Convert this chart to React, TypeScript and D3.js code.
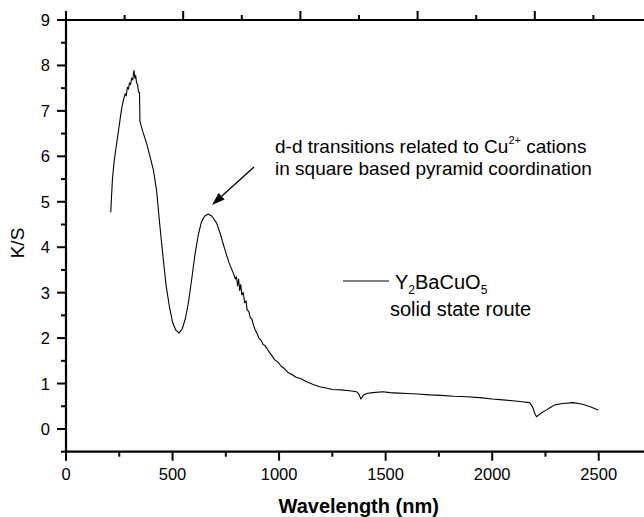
import React from "react";
import * as d3 from "d3";

const wavelength = [
  210, 213, 218, 225, 235, 249, 258, 262, 270, 278, 283, 288, 293, 298, 303, 308, 313, 319, 323, 327,
  331, 336, 340, 345, 347, 360, 378, 395, 410, 425, 440, 455, 470, 485, 500, 515, 530, 545, 560, 575,
  590, 605, 620, 635, 650, 667, 685, 707, 725, 746, 765, 785, 795, 800, 805, 810, 815, 820, 825, 832,
  838, 845, 850, 858, 865, 872, 879, 888, 897, 905, 915, 925, 935, 945, 955, 965, 980, 995, 1010, 1025,
  1040, 1060, 1080, 1100, 1130, 1160, 1190, 1220, 1250, 1290, 1330, 1363, 1375, 1384, 1395, 1410, 1440, 1487, 1520, 1560,
  1600, 1650, 1707, 1760, 1820, 1880, 1942, 2000, 2050, 2097, 2140, 2176, 2190, 2200, 2208, 2230, 2255, 2275, 2294, 2330,
  2380, 2420, 2460, 2497,
];
const ksValues = [
  4.77, 5.05, 5.5, 5.86, 6.2, 6.65, 6.95, 7.07, 7.25, 7.38, 7.33, 7.52, 7.48, 7.62, 7.58, 7.72, 7.68, 7.89, 7.72, 7.78,
  7.62, 7.58, 7.42, 7.4, 6.77, 6.55, 6.29, 5.98, 5.7, 5.25, 4.5, 3.8, 3.15, 2.7, 2.35, 2.18, 2.11, 2.2, 2.42, 2.8,
  3.3, 3.83, 4.25, 4.55, 4.68, 4.73, 4.68, 4.53, 4.28, 3.94, 3.66, 3.43, 3.3, 3.35, 3.15, 3.3, 3.05, 3.18, 2.95, 3.0,
  2.78, 2.82, 2.62, 2.58, 2.45, 2.42, 2.3, 2.18, 2.1, 2.0, 1.95, 1.86, 1.83, 1.76, 1.68, 1.62, 1.52, 1.47, 1.38, 1.33,
  1.25, 1.2, 1.14, 1.11, 1.04, 0.98, 0.93, 0.9, 0.87, 0.86, 0.84, 0.82, 0.76, 0.66, 0.74, 0.78, 0.8, 0.82, 0.8, 0.79,
  0.78, 0.77, 0.75, 0.74, 0.72, 0.71, 0.69, 0.66, 0.64, 0.62, 0.6, 0.58, 0.48, 0.34, 0.27, 0.35, 0.42, 0.48, 0.53, 0.56,
  0.58, 0.55, 0.49, 0.42,
];

const xMajorTicks = [0, 500, 1000, 1500, 2000, 2500];
const xMinorTicks = [250, 750, 1250, 1750, 2250, 2750];
const yMajorTicks = [0, 1, 2, 3, 4, 5, 6, 7, 8, 9];
const yMinorTicks = [-0.5, 0.5, 1.5, 2.5, 3.5, 4.5, 5.5, 6.5, 7.5, 8.5];
const topMajorTicks = [0, 1, 2, 3, 4, 5];
const topMinorTicks = [0.5, 1.5, 2.5, 3.5, 4.5];

const FONT = "'Liberation Sans', Arial, Helvetica, sans-serif";

export default function App() {
  const W = 644;
  const H = 517;
  const x = d3.scaleLinear().domain([0, 2750]).range([66, 652]);
  const top = d3.scaleLinear().domain([0, 5]).range([66, 652]);
  const y = d3.scaleLinear().domain([-0.5, 9]).range([451.7, 20]);
  const data = wavelength.map((w, i) => [w, ksValues[i]] as [number, number]);
  const line = d3
    .line<[number, number]>()
    .x((d) => x(d[0]))
    .y((d) => y(d[1]));

  const xL = 66;
  const yB = y(-0.5);
  const yT = y(9);

  // arrow geometry
  const ax1 = 254, ay1 = 167, ax2 = 212, ay2 = 205;
  const ang = Math.atan2(ay2 - ay1, ax2 - ax1);
  const hl = 13, hw = 4.5;
  const bx = ax2 - hl * Math.cos(ang), by = ay2 - hl * Math.sin(ang);
  const head = `M${ax2},${ay2} L${bx + hw * Math.sin(ang)},${by - hw * Math.cos(ang)} L${bx - hw * Math.sin(ang)},${by + hw * Math.cos(ang)} Z`;

  return (
    <svg
      width={W}
      height={H}
      style={{ position: "absolute", left: 0, top: 0, background: "#fff" }}
      fontFamily={FONT}
    >
      <rect x={0} y={0} width={W} height={H} fill="#fff" />
      {/* data line */}
      <path d={line(data) || ""} fill="none" stroke="#000" strokeWidth={1.1} strokeLinejoin="round" />

      {/* axes */}
      <line x1={xL} x2={W + 10} y1={yB} y2={yB} stroke="#000" strokeWidth={2.2} />
      <line x1={xL} x2={W + 10} y1={yT} y2={yT} stroke="#000" strokeWidth={2.2} />
      <line x1={xL} x2={xL} y1={yT} y2={yB} stroke="#000" strokeWidth={2.2} />

      {xMajorTicks.map((t) => (
        <g key={"xM" + t}>
          <line x1={x(t)} x2={x(t)} y1={yB} y2={yB + 9} stroke="#000" strokeWidth={2} />
          <text x={x(t)} y={480} textAnchor="middle" fontSize={16.5}>
            {t}
          </text>
        </g>
      ))}
      {xMinorTicks.map((t) => (
        <line key={"xm" + t} x1={x(t)} x2={x(t)} y1={yB} y2={yB + 5} stroke="#000" strokeWidth={2} />
      ))}
      {topMajorTicks.map((t) => (
        <line key={"tM" + t} x1={top(t)} x2={top(t)} y1={yT} y2={yT - 9} stroke="#000" strokeWidth={2} />
      ))}
      {topMinorTicks.map((t) => (
        <line key={"tm" + t} x1={top(t)} x2={top(t)} y1={yT} y2={yT - 5} stroke="#000" strokeWidth={2} />
      ))}
      {yMajorTicks.map((t) => (
        <g key={"yM" + t}>
          <line x1={xL - 9} x2={xL} y1={y(t)} y2={y(t)} stroke="#000" strokeWidth={2} />
          <text x={50} y={y(t) + 6} textAnchor="end" fontSize={16.5}>
            {t}
          </text>
        </g>
      ))}
      {yMinorTicks.map((t) => (
        <line key={"ym" + t} x1={xL - 5} x2={xL} y1={y(t)} y2={y(t)} stroke="#000" strokeWidth={2} />
      ))}

      {/* axis titles */}
      <text x={358.7} y={513} textAnchor="middle" fontSize={20} fontWeight="bold">
        Wavelength (nm)
      </text>
      <text transform="translate(24,243) rotate(-90)" textAnchor="middle" fontSize={19}>
        K/S
      </text>

      {/* annotation */}
      <text x={275} y={153} fontSize={19}>
        d-d transitions related to Cu
        <tspan fontSize={11} dy={-9}>2+</tspan>
        <tspan dy={9}> cations</tspan>
      </text>
      <text x={275} y={175} fontSize={19}>
        in square based pyramid coordination
      </text>
      <line x1={ax1} y1={ay1} x2={bx} y2={by} stroke="#000" strokeWidth={1.3} />
      <path d={head} fill="#000" />

      {/* legend */}
      <line x1={343} x2={389} y1={281} y2={281} stroke="#000" strokeWidth={1.1} />
      <text x={395} y={289} fontSize={20}>
        Y<tspan fontSize={12} dy={5}>2</tspan>
        <tspan dy={-5}>BaCuO</tspan>
        <tspan fontSize={12} dy={5}>5</tspan>
      </text>
      <text x={390} y={316} fontSize={20}>
        solid state route
      </text>
    </svg>
  );
}
